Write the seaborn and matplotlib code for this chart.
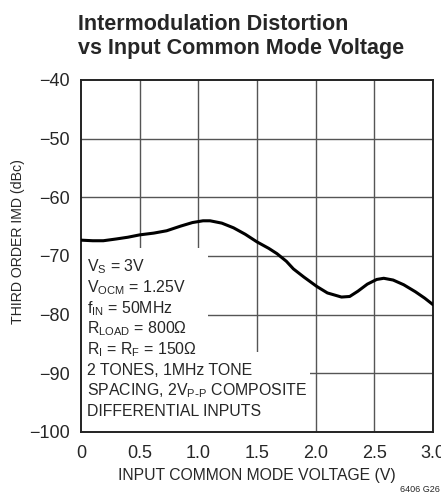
import numpy as np
import pandas as pd
import matplotlib
matplotlib.use("Agg")
import matplotlib.pyplot as plt
import seaborn as sns
from matplotlib.patches import Rectangle

# curve
voltage = [0.0, 0.10, 0.19, 0.30, 0.40, 0.50, 0.62, 0.73, 0.85, 0.95, 1.04, 1.10,
           1.20, 1.30, 1.40, 1.50, 1.60, 1.67, 1.75, 1.81, 1.90, 2.01, 2.10, 2.22,
           2.29, 2.36, 2.44, 2.52, 2.58, 2.66, 2.75, 2.85, 2.93, 3.0]
imd = [-67.3, -67.4, -67.4, -67.1, -66.8, -66.4, -66.1, -65.7, -64.9, -64.3, -64.0, -64.0,
       -64.4, -65.2, -66.3, -67.6, -68.7, -69.6, -70.9, -72.2, -73.6, -75.2, -76.3, -77.0,
       -76.9, -76.0, -74.8, -74.0, -73.8, -74.1, -74.9, -76.1, -77.2, -78.3]

x_ticks = [0, 0.5, 1.0, 1.5, 2.0, 2.5, 3.0]
x_tick_labels = ["0", "0.5", "1.0", "1.5", "2.0", "2.5", "3.0"]
y_ticks = [-100, -90, -80, -70, -60, -50, -40]
y_tick_labels = ["\u2212100", "\u221290", "\u221280", "\u221270", "\u221260", "\u221250", "\u221240"]

notes = [r"$\mathregular{V_S}$ = 3V",
         r"$\mathregular{V_{OCM}}$ = 1.25V",
         r"$\mathregular{f_{IN}}$ = 50MHz",
         r"$\mathregular{R_{LOAD}}$ = 800" + "\u03a9",
         r"$\mathregular{R_I}$ = $\mathregular{R_F}$ = 150" + "\u03a9",
         "2 TONES, 1MHz TONE",
         r"SPACING, 2$\mathregular{V_{P\text{-}P}}$ COMPOSITE",
         "DIFFERENTIAL INPUTS"]

df = pd.DataFrame({"v": voltage, "imd": imd})

sns.set_style("white")
plt.rcParams["font.family"] = ["Liberation Sans", "DejaVu Sans"]
plt.rcParams["mathtext.default"] = "regular"

fig = plt.figure(figsize=(4.41, 4.95), dpi=100)
ax = fig.add_axes([0.1837, 0.1273, 0.7982, 0.7111])

for v in x_ticks[1:-1]:
    ax.axvline(v, color="#555555", lw=1.0, zorder=0.8)
for y in y_ticks[1:-1]:
    ax.axhline(y, color="#555555", lw=1.0, zorder=0.8)

# white boxes behind the conditions text
ax.add_patch(Rectangle((0, 0), 0.361, 0.523, transform=ax.transAxes,
                       facecolor="white", edgecolor="none", zorder=1))
ax.add_patch(Rectangle((0, 0), 0.65, 0.227, transform=ax.transAxes,
                       facecolor="white", edgecolor="none", zorder=1))

sns.lineplot(data=df, x="v", y="imd", ax=ax, color="black", lw=2.2, zorder=3)

ax.set_xlim(0, 3)
ax.set_ylim(-100, -40)
ax.set_xticks(x_ticks)
ax.set_xticklabels(x_tick_labels, fontsize=13)
ax.set_yticks(y_ticks)
ax.set_yticklabels(y_tick_labels, fontsize=13)
ax.tick_params(direction="in", length=4, width=1, color="#333333")
ax.tick_params(axis="x", pad=9.5)
ax.tick_params(axis="y", pad=8)
for s in ax.spines.values():
    s.set_color("#222222")
    s.set_linewidth(1.4)

ax.set_xlabel("INPUT COMMON MODE VOLTAGE (V)", fontsize=11.3, labelpad=4)
ax.set_ylabel("THIRD ORDER IMD (dBc)", fontsize=10.2)
ax.yaxis.set_label_coords(-0.159, 0.54)

for i, t in enumerate(notes):
    ax.text(0.017, 0.456 - i * 0.0588, t, transform=ax.transAxes, fontsize=11.4,
            va="baseline", ha="left", zorder=4)

fig.text(0.177, 0.9394, "Intermodulation Distortion", fontsize=15.5,
         fontweight="bold", ha="left", va="baseline")
fig.text(0.177, 0.8909, "vs Input Common Mode Voltage", fontsize=15.5,
         fontweight="bold", ha="left", va="baseline")
fig.text(0.997, 0.002, "6406 G26", fontsize=6.5, ha="right", va="bottom")

fig.savefig("out.png", dpi=100)
